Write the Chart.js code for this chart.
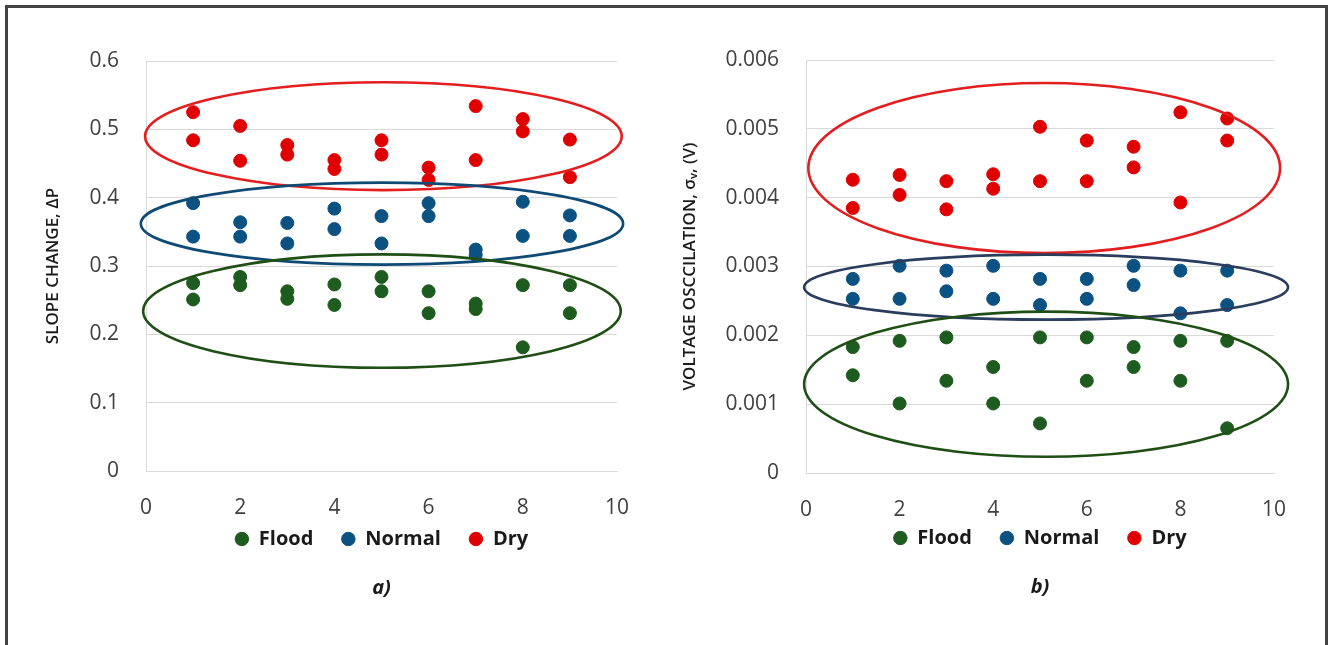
<!DOCTYPE html>
<html>
<head>
<meta charset="utf-8">
<script src="https://cdn.jsdelivr.net/npm/chart.js@4.4.1/dist/chart.umd.min.js"></script>
<style>
  html, body { margin: 0; padding: 0; background: #fff; }
  body { width: 1329px; height: 645px; position: relative; overflow: hidden; }
  #frame { position: absolute; left: 5px; top: 5px; width: 1323px; height: 700px; border: 3px solid #444; box-sizing: border-box; }
  .box { position: absolute; top: 0; height: 645px; }
  #boxA { left: 9px; width: 651px; }
  #boxB { left: 660px; width: 666px; }
</style>
</head>
<body>
<div id="frame"></div>
<div class="box" id="boxA"><canvas id="chartA" width="651" height="645"></canvas></div>
<div class="box" id="boxB"><canvas id="chartB" width="666" height="645"></canvas></div>
<script>
// same x for every series: two readings per sample 1..9
const xValues = [1, 1, 2, 2, 3, 3, 4, 4, 5, 5, 6, 6, 7, 7, 8, 8, 9, 9];

const seriesNames = ['Flood', 'Normal', 'Dry'];
const seriesColors = ['#1e5b1e', '#0b5181', '#e00000'];

// a) slope change
const floodA  = [0.275, 0.251, 0.284, 0.272, 0.263, 0.252, 0.273, 0.243, 0.284, 0.263, 0.263, 0.231, 0.245, 0.237, 0.272, 0.181, 0.272, 0.231];
const normalA = [0.392, 0.343, 0.364, 0.343, 0.363, 0.333, 0.384, 0.354, 0.373, 0.333, 0.392, 0.373, 0.324, 0.316, 0.394, 0.344, 0.374, 0.344];
const dryA    = [0.525, 0.484, 0.505, 0.454, 0.477, 0.463, 0.455, 0.442, 0.484, 0.463, 0.444, 0.426, 0.534, 0.455, 0.515, 0.497, 0.485, 0.430];

// b) voltage oscillation
const floodB  = [0.00183, 0.00142, 0.00192, 0.00101, 0.00197, 0.00134, 0.00154, 0.00101, 0.00197, 0.00072, 0.00197, 0.00134, 0.00183, 0.00154, 0.00192, 0.00134, 0.00192, 0.00065];
const normalB = [0.00282, 0.00253, 0.00301, 0.00253, 0.00294, 0.00264, 0.00301, 0.00253, 0.00282, 0.00244, 0.00282, 0.00253, 0.00301, 0.00273, 0.00294, 0.00232, 0.00294, 0.00244];
const dryB    = [0.00426, 0.00385, 0.00433, 0.00404, 0.00424, 0.00383, 0.00434, 0.00413, 0.00503, 0.00424, 0.00483, 0.00424, 0.00474, 0.00444, 0.00524, 0.00393, 0.00515, 0.00483];

// group outlines, in data units (cx, cy, rx, ry)
const ellipsesA = [
  { cx: 5.04, cy: 0.490, rx: 5.06, ry: 0.079, color: '#e41e1e' },
  { cx: 5.01, cy: 0.362, rx: 5.12, ry: 0.060, color: '#0f4a74' },
  { cx: 5.01, cy: 0.234, rx: 5.07, ry: 0.083, color: '#1f4f14' }
];
const ellipsesB = [
  { cx: 5.09, cy: 0.00443, rx: 5.04, ry: 0.001235, color: '#e41e1e' },
  { cx: 5.13, cy: 0.00270, rx: 5.17, ry: 0.000472, color: '#2a3d5c' },
  { cx: 5.13, cy: 0.00129, rx: 5.17, ry: 0.001055, color: '#1f4f14' }
];

const FONT = '"Open Sans", "Noto Sans", sans-serif';

function points(ys) {
  return ys.map((y, i) => ({ x: xValues[i], y: y }));
}

function ellipsePlugin(items) {
  return {
    id: 'ellipses',
    afterDatasetsDraw(chart) {
      const ctx = chart.ctx;
      const x = chart.scales.x, y = chart.scales.y;
      items.forEach(e => {
        const cx = x.getPixelForValue(e.cx);
        const cy = y.getPixelForValue(e.cy);
        const rx = Math.abs(x.getPixelForValue(e.cx + e.rx) - cx);
        const ry = Math.abs(y.getPixelForValue(e.cy + e.ry) - cy);
        ctx.save();
        ctx.beginPath();
        ctx.ellipse(cx, cy, rx, ry, 0, 0, Math.PI * 2);
        ctx.strokeStyle = e.color;
        ctx.lineWidth = 2.6;
        ctx.stroke();
        ctx.restore();
      });
    }
  };
}

function makeChart(id, cfg) {
  return new Chart(document.getElementById(id), {
    type: 'scatter',
    data: {
      datasets: seriesNames.map((name, i) => ({
        label: name,
        data: points(cfg.series[i]),
        backgroundColor: seriesColors[i],
        borderColor: seriesColors[i],
        pointRadius: 6.5,
        pointHoverRadius: 6.5
      }))
    },
    options: {
      responsive: false,
      animation: false,
      layout: { padding: cfg.padding },
      scales: {
        x: {
          min: 0, max: 10,
          ticks: { stepSize: 2, padding: 19, color: '#404040', font: { family: FONT, size: 21, lineHeight: 1 } },
          grid: { display: false },
          border: { display: true, color: '#d9d9d9' },
          afterFit(s) {
            // shorter box so the legend sits close under the tick labels; don't clip labels to it
            s.height = cfg.xAxisH;
            s._computeLabelArea = () => null;
          }
        },
        y: {
          min: 0, max: cfg.yMax,
          ticks: {
            stepSize: cfg.yStep, padding: 27, color: '#404040',
            font: { family: FONT, size: 21 },
            callback: v => v === 0 ? '0' : v.toFixed(cfg.digits)
          },
          grid: { color: '#d9d9d9', drawTicks: false },
          border: { display: true, color: '#d9d9d9' },
          title: {
            display: true, text: cfg.yTitle, color: '#1a1a1a',
            font: { family: FONT, size: 17, weight: '600' },
            padding: { top: cfg.titleTop, bottom: 0 }
          },
          afterFit(s) { s.width = cfg.yAxisW; }
        }
      },
      plugins: {
        legend: {
          position: 'bottom',
          fullSize: false,
          labels: {
            usePointStyle: true, pointStyle: 'circle',
            boxWidth: 14, boxHeight: 9.5, padding: 28,
            color: '#1a1a1a',
            font: { family: FONT, size: 20, weight: 'bold' }
          }
        },
        title: {
          display: true, position: 'bottom', fullSize: false,
          text: cfg.caption, color: '#1a1a1a',
          padding: { top: 17, bottom: 0 },
          font: { family: FONT, size: 20, weight: 'bold', style: 'italic' }
        },
        tooltip: { enabled: false }
      }
    },
    plugins: [ellipsePlugin(cfg.ellipses)]
  });
}

makeChart('chartA', {
  series: [floodA, normalA, dryA],
  ellipses: ellipsesA,
  yMax: 0.6, yStep: 0.1, digits: 1,
  yTitle: 'SLOPE CHANGE, ΔP',
  caption: 'a)',
  titleTop: 34, yAxisW: 137, xAxisH: 30,
  padding: { left: 0, right: 43, top: 61, bottom: 45 }
});

makeChart('chartB', {
  series: [floodB, normalB, dryB],
  ellipses: ellipsesB,
  yMax: 0.006, yStep: 0.001, digits: 3,
  yTitle: 'VOLTAGE OSCCILATION, σᵥ, (V)',
  caption: 'b)',
  titleTop: 20, yAxisW: 146, xAxisH: 27,
  padding: { left: 0, right: 52, top: 60, bottom: 46 }
});
</script>
</body>
</html>
